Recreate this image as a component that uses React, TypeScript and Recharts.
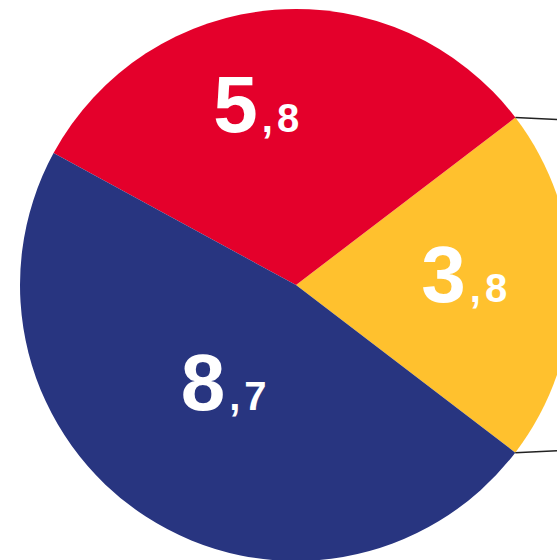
import { PieChart, Pie, Cell } from 'recharts'

const SEGMENTS = ['yellow', 'red', 'blue']
const VALUES = [3.8, 5.8, 8.7]
const COLORS = ['#FFC12E', '#E4002B', '#283580']

// per-slice label placement: radius as a share of the outer radius, and an angle nudge (deg)
const LABEL_PLACE = [
  { r: 0.62, da: -5.7 },
  { r: 0.57, da: 9.5 },
  { r: 0.52, da: 3.6 },
]

const data = SEGMENTS.map((name, i) => ({ name, value: VALUES[i] }))

const RAD = Math.PI / 180
const WIDTH = 557
const HEIGHT = 560

// eslint-disable-next-line @typescript-eslint/no-explicit-any
const renderLabel = (props: any) => {
  const { cx, cy, midAngle, outerRadius, percent, index, value } = props
  const place = LABEL_PLACE[index] ?? { r: 0.6, da: 0 }
  const a = (midAngle + place.da) * RAD
  const x = cx + outerRadius * place.r * Math.cos(a)
  const y = cy - outerRadius * place.r * Math.sin(a)
  const [whole, frac] = Number(value).toFixed(1).split('.')

  // leader lines off the right-hand slice edges
  let lines = null
  if (index === 0) {
    const half = percent * 180
    const pts = [midAngle + half, midAngle - half].map((deg) => ({
      x: cx + outerRadius * Math.cos(deg * RAD),
      y: cy - outerRadius * Math.sin(deg * RAD),
    }))
    lines = (
      <g>
        <line x1={pts[0].x} y1={pts[0].y} x2={WIDTH} y2={pts[0].y + 2} stroke="#222" strokeWidth={1.5} />
        <line x1={pts[1].x} y1={pts[1].y} x2={WIDTH} y2={pts[1].y - 2} stroke="#222" strokeWidth={1.5} />
      </g>
    )
  }

  return (
    <g>
      {lines}
      <text
        x={x}
        y={y}
        textAnchor="middle"
        fill="#fff"
        fontFamily="'Liberation Sans', Arial, sans-serif"
        fontWeight={700}
      >
        <tspan fontSize={80}>{whole}</tspan>
        <tspan fontSize={40} dx={4} letterSpacing={4}>{`,${frac}`}</tspan>
      </text>
    </g>
  )
}

export default function App() {
  return (
    <div style={{ position: 'absolute', left: 0, top: 0, width: WIDTH, height: HEIGHT, background: '#fff' }}>
      <PieChart width={WIDTH} height={HEIGHT} margin={{ top: 0, right: 0, bottom: 0, left: 0 }}>
        <Pie
          data={data}
          dataKey="value"
          nameKey="name"
          cx={296}
          cy={285}
          outerRadius={276}
          startAngle={-37.4}
          endAngle={322.6}
          stroke="none"
          label={renderLabel}
          labelLine={false}
          isAnimationActive={false}
        >
          {data.map((d, i) => (
            <Cell key={d.name} fill={COLORS[i]} />
          ))}
        </Pie>
      </PieChart>
    </div>
  )
}
